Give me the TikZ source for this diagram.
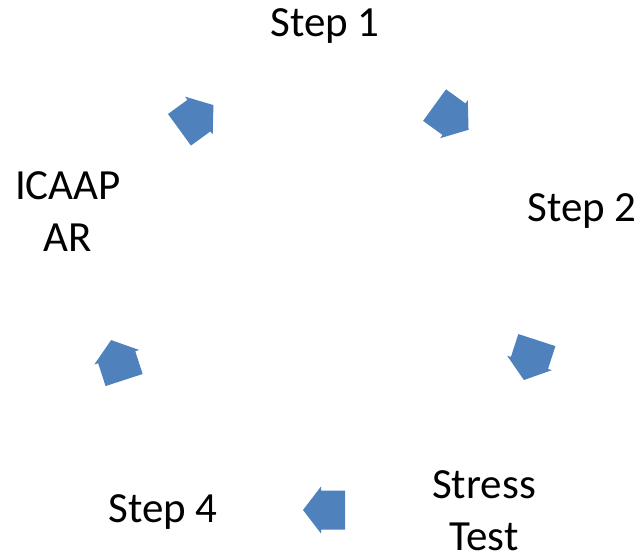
\documentclass[tikz,border=0pt]{standalone}
\usepackage{fontspec}
\setmainfont{Carlito}
\definecolor{arrowblue}{HTML}{4F81BD}
\begin{document}
\begin{tikzpicture}[x=1pt,y=1pt,
  lbl/.style={font=\fontsize{43}{52}\selectfont, inner sep=0pt, align=center, anchor=base},
  cyclearrow/.style={fill=arrowblue, draw=none}]
\useasboundingbox (0,0) rectangle (642,557);
\node[lbl] (s1) at (325,520) {Step 1};
\node[lbl] (s2) at (582,335) {Step 2};
\node[lbl] (st) at (484,7) {Stress\\Test};
\node[lbl] (s4) at (163,35) {Step 4};
\node[lbl] (ic) at (68,305) {ICAAP\\AR};
\coordinate (c) at (324,264);
\begin{scope}[shift={(c)}]
\foreach \a in {270,342,54,126,198}{
  \fill[cyclearrow, shift={(\a:217)}, rotate=\a-90]
    (21,0) -- (3,23.5) -- (3,19.5) -- (-21,19.5) -- (-21,-19.5) -- (3,-19.5) -- (3,-23.5) -- cycle;
}
\end{scope}
\end{tikzpicture}
\end{document}
